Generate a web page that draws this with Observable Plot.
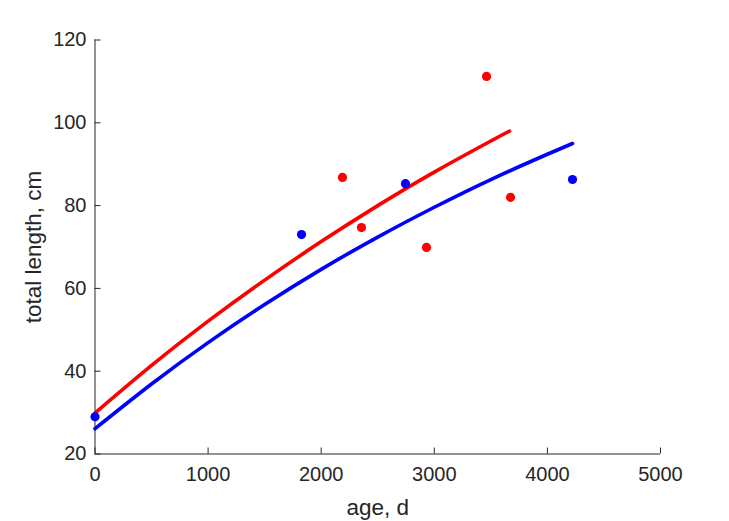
<!DOCTYPE html>
<html><head><meta charset="utf-8">
<script src="https://cdn.jsdelivr.net/npm/d3@7"></script>
<script src="https://cdn.jsdelivr.net/npm/@observablehq/plot@0.6"></script>
<style>body{margin:0;background:#fff} svg{display:block}</style>
</head><body><div id="chart"></div>
<script>
const xTicks = [0, 1000, 2000, 3000, 4000, 5000];
const yTicks = [20, 40, 60, 80, 100, 120];
const xLabel = "age, d";
const yLabel = "total length, cm";

const redAge = [3462, 2188, 2356, 2931, 3674];
const redLen = [111.2, 86.8, 74.7, 69.9, 82.0];
const blueAge = [0, 1826, 2745, 4222];
const blueLen = [29.0, 73.0, 85.3, 86.3];

const redCurveAge = [0, 500, 1000, 1500, 2000, 2500, 3000, 3500, 3665];
const redCurveLen = [29.9, 41.4, 52.1, 62.0, 71.3, 80.0, 88.1, 95.6, 98.0];
const blueCurveAge = [0, 500, 1000, 1500, 2000, 2500, 3000, 3500, 4000, 4222];
const blueCurveLen = [26.1, 36.9, 46.9, 56.1, 64.6, 72.4, 79.6, 86.3, 92.4, 95.0];

const zip = (a, b) => a.map((v, i) => ({x: v, y: b[i]}));
const redPts = zip(redAge, redLen);
const bluePts = zip(blueAge, blueLen);
const redCurve = zip(redCurveAge, redCurveLen);
const blueCurve = zip(blueCurveAge, blueCurveLen);

const W = 729, H = 521;
const mL = 94.5, mR = 69, mT = 39.5, mB = 67.5;
const fw = W - mL - mR, fh = H - mT - mB;
const axisColor = "#262626";

const chart = Plot.plot({
  width: W, height: H,
  marginLeft: mL, marginRight: mR, marginTop: mT, marginBottom: mB,
  style: {fontFamily: "'Liberation Sans', Arial, Helvetica, sans-serif", background: "#fff", color: axisColor},
  x: {domain: [0, 5000], label: null},
  y: {domain: [20, 120], label: null},
  marks: [
    Plot.axisX({ticks: xTicks, tickFormat: d3.format("d"), tickSize: 0, tickPadding: 13, fontSize: 20, fill: axisColor, label: null}),
    Plot.axisY({ticks: yTicks, tickFormat: d3.format("d"), tickSize: 0, tickPadding: 8.5, fontSize: 20, fill: axisColor, label: null}),
    Plot.tickX(xTicks, {x: d => d, stroke: axisColor, insetTop: fh - 6}),
    Plot.tickY(yTicks, {y: d => d, stroke: axisColor, insetRight: fw - 6}),
    Plot.ruleX([0], {stroke: axisColor}),
    Plot.ruleY([20], {stroke: axisColor}),
    Plot.line(redCurve, {x: "x", y: "y", stroke: "#ff0000", strokeWidth: 3.6, curve: "natural"}),
    Plot.line(blueCurve, {x: "x", y: "y", stroke: "#0000ff", strokeWidth: 3.6, curve: "natural"}),
    Plot.dot(redPts, {x: "x", y: "y", r: 4.6, fill: "#ff0000", stroke: null}),
    Plot.dot(bluePts, {x: "x", y: "y", r: 4.6, fill: "#0000ff", stroke: null}),
    Plot.text([xLabel], {frameAnchor: "bottom", textAnchor: "middle", lineAnchor: "middle", dy: 54, fontSize: 22.5, fill: axisColor}),
    Plot.text([yLabel], {frameAnchor: "left", textAnchor: "middle", lineAnchor: "middle", dx: -61.5, rotate: -90, fontSize: 22.5, fill: axisColor})
  ]
});
document.getElementById("chart").appendChild(chart);
</script>
</body></html>
